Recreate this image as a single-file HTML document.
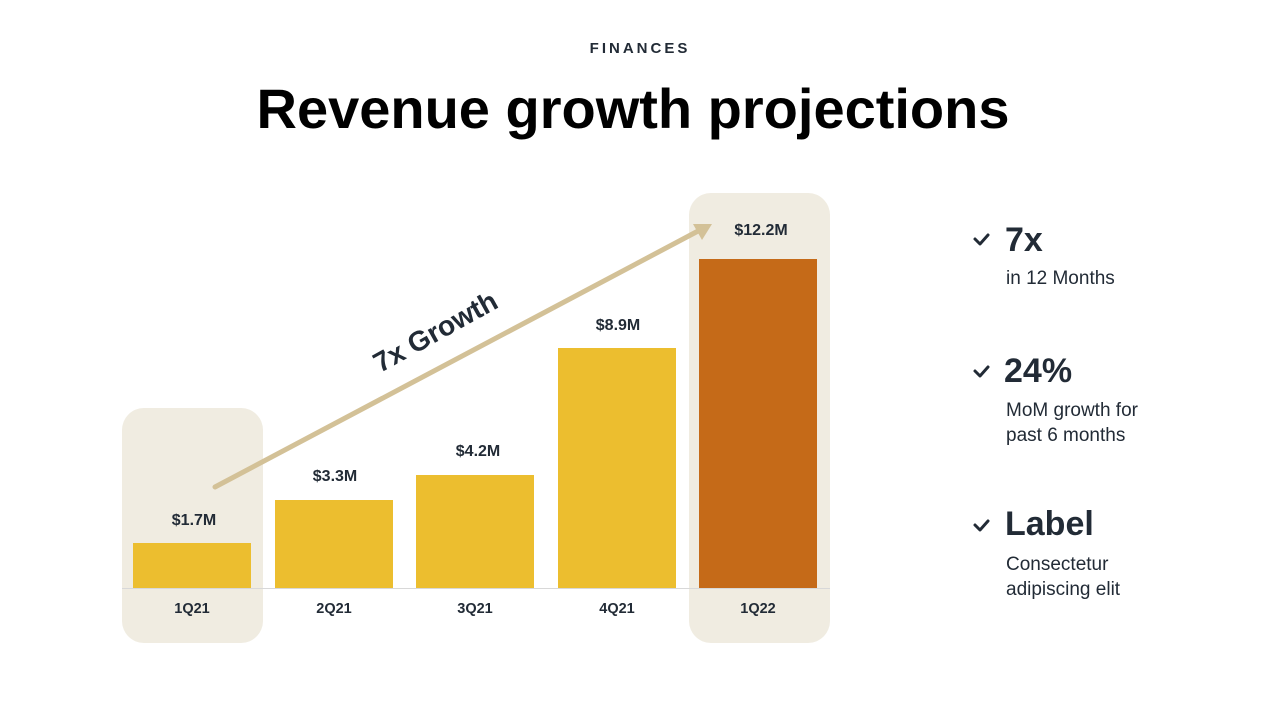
<!DOCTYPE html>
<html><head><meta charset="utf-8"><style>
body{margin:0;width:1280px;height:720px;background:#fff;overflow:hidden;font-family:"Liberation Sans",sans-serif;}
</style></head><body>
<svg width="1280" height="720" xmlns="http://www.w3.org/2000/svg" font-family="Liberation Sans, sans-serif">
<text x="640" y="53" text-anchor="middle" font-size="15" font-weight="bold" letter-spacing="3" fill="#222b36">FINANCES</text>
<text x="633" y="128" text-anchor="middle" font-size="56" font-weight="bold" fill="#000">Revenue growth projections</text>
<rect x="122" y="408" width="141" height="235" rx="22" fill="#f0ece1"/>
<rect x="689" y="193" width="141" height="450" rx="22" fill="#f0ece1"/>
<line x1="122" y1="588.5" x2="830" y2="588.5" stroke="#d8d8d8" stroke-width="1"/>
<rect x="133" y="543" width="118" height="45" fill="#ecbe2f"/>
<rect x="275" y="500" width="118" height="88" fill="#ecbe2f"/>
<rect x="416" y="475" width="118" height="113" fill="#ecbe2f"/>
<rect x="558" y="348" width="118" height="240" fill="#ecbe2f"/>
<rect x="699" y="259" width="118" height="329" fill="#c56a18"/>
<g font-size="16" font-weight="bold" fill="#222b36" text-anchor="middle">
<text x="194" y="525">$1.7M</text>
<text x="335" y="481">$3.3M</text>
<text x="478" y="456">$4.2M</text>
<text x="618" y="330">$8.9M</text>
<text x="761" y="235">$12.2M</text>
</g>
<g font-size="14.5" font-weight="bold" fill="#222b36" text-anchor="middle">
<text x="192" y="613">1Q21</text>
<text x="334" y="613">2Q21</text>
<text x="475" y="613">3Q21</text>
<text x="617" y="613">4Q21</text>
<text x="758" y="613">1Q22</text>
</g>
<line x1="215" y1="487" x2="700" y2="230" stroke="#d3c197" stroke-width="5" stroke-linecap="round"/>
<polygon points="712,224 693,224 702,240" fill="#d3c197"/>
<text x="0" y="0" transform="translate(440,340) rotate(-29)" text-anchor="middle" font-size="28" font-weight="bold" fill="#222b36">7x Growth</text>
<g fill="none" stroke="#222b36" stroke-width="3" stroke-linecap="round" stroke-linejoin="round">
<polyline points="975,239 980,244 988,235"/>
<polyline points="975,371 980,376 988,367"/>
<polyline points="975,525 980,530 988,521"/>
</g>
<g fill="#222b36">
<text x="1005" y="251" font-size="34" font-weight="bold">7x</text>
<text x="1006" y="284" font-size="19">in 12 Months</text>
<text x="1004" y="382" font-size="34" font-weight="bold">24%</text>
<text x="1006" y="416" font-size="19">MoM growth for</text>
<text x="1006" y="441" font-size="19">past 6 months</text>
<text x="1005" y="535" font-size="34" font-weight="bold">Label</text>
<text x="1006" y="570" font-size="19">Consectetur</text>
<text x="1006" y="595" font-size="19">adipiscing elit</text>
</g>
</svg>
</body></html>
